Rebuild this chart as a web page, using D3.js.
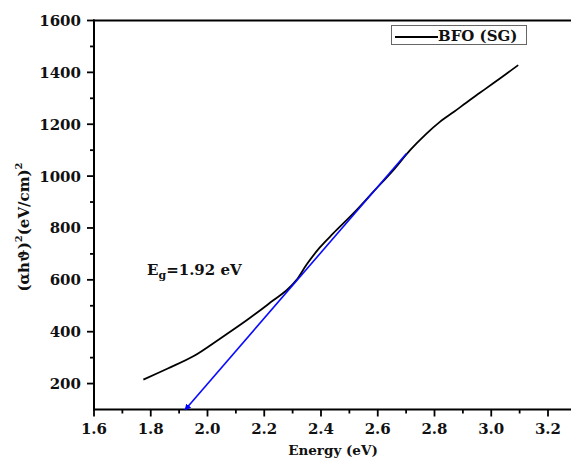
<!DOCTYPE html>
<html>
<head>
<meta charset="utf-8">
<script src="https://cdn.jsdelivr.net/npm/d3@7"></script>
<style>
	body { margin: 0; background: #fff; }
	text { font-family: "DejaVu Serif", serif; font-weight: bold; fill: #111; }
</style>
</head>
<body>
<div id="chart"></div>
<script>
// data
var energy = [1.774, 1.86, 1.95, 2.044, 2.138, 2.232, 2.279, 2.314, 2.35, 2.396, 2.443, 2.514, 2.584, 2.655, 2.714, 2.77, 2.819, 2.87, 2.913, 2.96, 3.007, 3.05, 3.095];
var absorb = [215, 258, 305, 373, 444, 521, 560, 600, 660, 725, 779, 856, 939, 1023, 1100, 1162, 1209, 1249, 1284, 1321, 1358, 1392, 1428];
var fitEnergy = [1.922, 2.702];
var fitValue = [100, 1088];
var xTicks = [1.6, 1.8, 2.0, 2.2, 2.4, 2.6, 2.8, 3.0, 3.2];
var yTicks = [200, 400, 600, 800, 1000, 1200, 1400, 1600];

var renderChart = function() {
	var W = 571, H = 458;
	var mLeft = 94, mTop = 20.5, mBottom = 409.5;

	var svg = d3.select('#chart')
		.append('svg')
		.attr('width', W)
		.attr('height', H);

	//Scales
	var x = d3.scaleLinear().domain([1.6, 3.4]).range([mLeft, mLeft + 9 * 56.75]);
	var y = d3.scaleLinear().domain([100, 1600]).range([mBottom, mTop]);

	//minor ticks
	var xMinor = d3.range(1.7, 3.35, 0.2);
	var yMinor = d3.range(300, 1600, 200);

	//x axis
	var gx = svg.append('g')
		.attr('transform', 'translate(0,' + mBottom + ')');
	gx.append('line')
		.attr('x1', mLeft - 1).attr('x2', W + 5)
		.attr('stroke', '#000').attr('stroke-width', 2);
	gx.selectAll('.maj').data(xTicks).enter().append('line')
		.attr('x1', function(d) { return x(d); }).attr('x2', function(d) { return x(d); })
		.attr('y1', 0).attr('y2', 7)
		.attr('stroke', '#000').attr('stroke-width', 1.8);
	gx.selectAll('.min').data(xMinor).enter().append('line')
		.attr('x1', function(d) { return x(d); }).attr('x2', function(d) { return x(d); })
		.attr('y1', 0).attr('y2', 4)
		.attr('stroke', '#000').attr('stroke-width', 1.8);
	gx.selectAll('.lab').data(xTicks).enter().append('text')
		.attr('x', function(d) { return x(d); })
		.attr('y', 24)
		.attr('text-anchor', 'middle')
		.style('font-size', '15px')
		.text(function(d) { return d.toFixed(1); });
	gx.append('text')
		.attr('x', 333).attr('y', 45)
		.attr('text-anchor', 'middle')
		.style('font-size', '13.5px')
		.text('Energy (eV)');

	//y axis
	var gy = svg.append('g')
		.attr('transform', 'translate(' + mLeft + ',0)');
	gy.append('line')
		.attr('y1', mTop - 1).attr('y2', mBottom + 1)
		.attr('stroke', '#000').attr('stroke-width', 2);
	gy.selectAll('.maj').data(yTicks).enter().append('line')
		.attr('y1', function(d) { return y(d); }).attr('y2', function(d) { return y(d); })
		.attr('x1', 0).attr('x2', -7)
		.attr('stroke', '#000').attr('stroke-width', 1.8);
	gy.selectAll('.min').data(yMinor).enter().append('line')
		.attr('y1', function(d) { return y(d); }).attr('y2', function(d) { return y(d); })
		.attr('x1', 0).attr('x2', -4)
		.attr('stroke', '#000').attr('stroke-width', 1.8);
	gy.selectAll('.lab').data(yTicks).enter().append('text')
		.attr('x', -13)
		.attr('y', function(d) { return y(d); })
		.attr('dy', '0.36em')
		.attr('text-anchor', 'end')
		.style('font-size', '15px')
		.text(function(d) { return d; });
	var ylab = svg.append('text')
		.attr('transform', 'translate(29,227) rotate(-90)')
		.attr('text-anchor', 'middle')
		.style('font-size', '15px');
	ylab.append('tspan').text('(αhϑ)');
	ylab.append('tspan').attr('dy', -7).style('font-size', '10px').text('2');
	ylab.append('tspan').attr('dy', 7).text('(eV/cm)');
	ylab.append('tspan').attr('dy', -7).style('font-size', '10px').text('2');

	//top frame line
	svg.append('line')
		.attr('x1', mLeft - 1).attr('x2', W + 5)
		.attr('y1', mTop).attr('y2', mTop)
		.attr('stroke', '#000').attr('stroke-width', 2);

	//curve
	var line = d3.line()
		.x(function(d) { return x(d[0]); })
		.y(function(d) { return y(d[1]); })
		.curve(d3.curveCatmullRom);
	svg.append('path')
		.datum(d3.zip(energy, absorb))
		.attr('d', line)
		.attr('fill', 'none')
		.attr('stroke', '#000')
		.attr('stroke-width', 1.8);

	//tangent line with arrow at the intercept
	svg.append('defs').append('marker')
		.attr('id', 'arr')
		.attr('viewBox', '0 0 10 10')
		.attr('refX', 8).attr('refY', 5)
		.attr('markerWidth', 4).attr('markerHeight', 4)
		.attr('orient', 'auto-start-reverse')
		.append('path')
		.attr('d', 'M0,0 L10,5 L0,10 z')
		.attr('fill', '#0000ff');
	svg.append('path')
		.datum(d3.zip(fitEnergy, fitValue))
		.attr('d', d3.line().x(function(d) { return x(d[0]); }).y(function(d) { return y(d[1]); }))
		.attr('fill', 'none')
		.attr('stroke', '#0a0aff')
		.attr('stroke-width', 1.6)
		.attr('marker-start', 'url(#arr)');

	//annotation
	var eg = svg.append('text')
		.attr('x', 147).attr('y', 275)
		.style('font-size', '15px');
	eg.append('tspan').text('E');
	eg.append('tspan').attr('dy', 4).style('font-size', '11px').text('g');
	eg.append('tspan').attr('dy', -4).text('=1.92 eV');

	//legend
	var lg = svg.append('g');
	lg.append('rect')
		.attr('x', 391.5).attr('y', 25.5)
		.attr('width', 135).attr('height', 19)
		.attr('fill', '#fff')
		.attr('stroke', '#666').attr('stroke-width', 1);
	lg.append('line')
		.attr('x1', 395).attr('x2', 438)
		.attr('y1', 37).attr('y2', 37)
		.attr('stroke', '#000').attr('stroke-width', 1.8);
	lg.append('text')
		.attr('x', 438).attr('y', 41)
		.style('font-size', '15px')
		.text('BFO (SG)');
};

renderChart();
</script>
</body>
</html>
